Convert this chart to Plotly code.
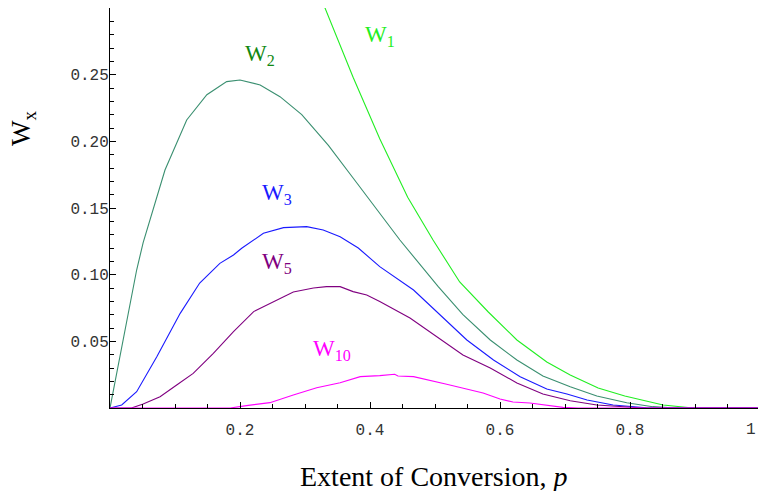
import plotly.graph_objects as go

# Extent of conversion p (x) and weight fractions W_x (y)
p_w1 = [0.31, 0.331, 0.374, 0.415, 0.458, 0.497, 0.538, 0.582, 0.626, 0.672, 0.708, 0.751, 0.792, 0.851, 0.897, 1.0]
w1 = [0.325, 0.30, 0.248, 0.202, 0.158, 0.126, 0.0945, 0.072, 0.051, 0.0345, 0.0248, 0.015, 0.009, 0.0022, 0.0, 0.0]

p_w2 = [0.0, 0.02, 0.041, 0.051, 0.0846, 0.118, 0.149, 0.1795, 0.2, 0.231, 0.2615, 0.295, 0.336, 0.374, 0.415,
        0.446, 0.505, 0.543, 0.585, 0.626, 0.666, 0.708, 0.749, 0.795, 0.835, 0.87, 1.0]
w2 = [0.0, 0.051, 0.1035, 0.124, 0.1785, 0.216, 0.235, 0.2448, 0.246, 0.2423, 0.2335, 0.22, 0.197, 0.1725, 0.146,
      0.126, 0.091, 0.07, 0.051, 0.036, 0.024, 0.016, 0.009, 0.004, 0.001, 0.0, 0.0]

p_w3 = [0.0, 0.018, 0.041, 0.072, 0.108, 0.138, 0.169, 0.19, 0.2026, 0.236, 0.267, 0.3026, 0.328, 0.354, 0.382,
        0.415, 0.467, 0.508, 0.549, 0.590, 0.631, 0.672, 0.703, 0.734, 0.774, 0.825, 1.0]
w3 = [0.0, 0.0023, 0.0122, 0.0385, 0.071, 0.0937, 0.1085, 0.1148, 0.1198, 0.131, 0.1353, 0.136, 0.1335, 0.1285, 0.12,
      0.106, 0.0885, 0.0698, 0.051, 0.036, 0.0235, 0.0142, 0.0105, 0.006, 0.0023, 0.0002, 0.0]

p_w5 = [0.0, 0.033, 0.051, 0.077, 0.1026, 0.128, 0.159, 0.19, 0.221, 0.251, 0.282, 0.313, 0.333, 0.354, 0.374,
        0.395, 0.415, 0.4615, 0.5026, 0.543, 0.585, 0.626, 0.666, 0.708, 0.749, 0.789, 0.82, 1.0]
w5 = [0.0, 0.0, 0.003, 0.0085, 0.0173, 0.026, 0.041, 0.0573, 0.0723, 0.0798, 0.087, 0.09, 0.091, 0.091, 0.0873,
      0.0848, 0.0798, 0.0675, 0.0535, 0.0398, 0.030, 0.0188, 0.0105, 0.0055, 0.0023, 0.001, 0.0, 0.0]

p_w10 = [0.0, 0.185, 0.21, 0.246, 0.282, 0.318, 0.354, 0.385, 0.415, 0.438, 0.443, 0.467, 0.518, 0.574, 0.6,
         0.62, 0.646, 0.672, 0.697, 0.72, 1.0]
w10 = [0.0, 0.0, 0.0018, 0.004, 0.0098, 0.0152, 0.019, 0.0235, 0.0243, 0.0253, 0.024, 0.0235, 0.0178, 0.0112, 0.0067,
       0.0045, 0.0037, 0.0018, 0.0005, 0.0, 0.0]

series_names = ["W1", "W2", "W3", "W5", "W10"]
y_tick_vals = [0.05, 0.10, 0.15, 0.20, 0.25]
y_tick_text = ["0.05", "0.10", "0.15", "0.20", "0.25"]
x_tick_vals = [0.2, 0.4, 0.6, 0.8, 1.0]
x_tick_text = ["0.2", "0.4", "0.6", "0.8", "1"]

line_colors = {"W1": "#22ee22", "W2": "#3a8f70", "W3": "#1a1aff", "W5": "#800080", "W10": "#ff00ff"}
label_colors = {"W1": "#22ee22", "W2": "#118811", "W3": "#1a1aff", "W5": "#800080", "W10": "#ff00ff"}

fig = go.Figure()
data = {"W1": (p_w1, w1), "W2": (p_w2, w2), "W3": (p_w3, w3), "W5": (p_w5, w5), "W10": (p_w10, w10)}
for name in series_names:
    xs, ys = data[name]
    fig.add_trace(go.Scatter(x=xs, y=ys, mode="lines", name=name,
                             line=dict(color=line_colors[name], width=1.1),
                             cliponaxis=True, showlegend=False))

# curve labels
labels = [("W1", "1", 0.415, 0.279), ("W2", "2", 0.231, 0.265), ("W3", "3", 0.257, 0.1605),
          ("W5", "5", 0.257, 0.1088), ("W10", "10", 0.3415, 0.0435)]
for name, sub, lx, ly in labels:
    fig.add_annotation(x=lx, y=ly, xref="x", yref="y", showarrow=False,
                       xanchor="center", yanchor="middle",
                       text=f"W<sub>{sub}</sub>",
                       font=dict(family="Liberation Serif", size=23, color=label_colors[name]))

PLOT_W = 648
PLOT_H = 400
# y-axis title
fig.add_annotation(x=-(110 - 23) / PLOT_W, y=(408 - 128) / PLOT_H, xref="paper", yref="paper", showarrow=False,
                   xanchor="center", yanchor="middle",
                   text="W<sub>x</sub>", textangle=-90,
                   font=dict(family="Liberation Serif", size=27, color="black"))

# x-axis title
fig.add_annotation(x=(434 - 110) / PLOT_W, y=-(476 - 408) / PLOT_H, xref="paper", yref="paper", showarrow=False,
                   xanchor="center", yanchor="middle",
                   text="Extent of Conversion, <i>p</i>",
                   font=dict(family="Liberation Serif", size=28, color="black"))

# "1" tick label at the right edge (the axis end lies just beyond the window)
fig.add_annotation(x=1.0, y=-(430 - 408) / PLOT_H, xref="paper", yref="paper", showarrow=False,
                   xanchor="right", yanchor="middle",
                   text="1", font=dict(family="Liberation Mono", size=16, color="#333333"))

fig.update_layout(
    width=758, height=491,
    margin=dict(l=110, r=0, t=8, b=83, autoexpand=False),
    paper_bgcolor="white", plot_bgcolor="white",
    xaxis=dict(range=[0, 648 / 650], showgrid=False, zeroline=False, automargin=False,
               showline=True, linecolor="black", linewidth=1,
               tickmode="array", tickvals=x_tick_vals, ticktext=x_tick_text,
               ticks="inside", ticklen=6, tickcolor="black", tickwidth=1,
               ticklabelstandoff=7,
               minor=dict(dtick=0.05, tick0=0, ticks="inside", ticklen=4, tickcolor="black", showgrid=False),
               tickfont=dict(family="Liberation Mono", size=16, color="#333333")),
    yaxis=dict(range=[0, 0.30], showgrid=False, zeroline=False, automargin=False,
               showline=True, linecolor="black", linewidth=1,
               tickmode="array", tickvals=y_tick_vals, ticktext=y_tick_text,
               ticks="inside", ticklen=6, tickcolor="black", tickwidth=1,
               ticklabelstandoff=-3,
               minor=dict(dtick=0.01, tick0=0, ticks="inside", ticklen=4, tickcolor="black", showgrid=False),
               tickfont=dict(family="Liberation Mono", size=16, color="#333333")),
)

fig.write_html("out.html", config={"displayModeBar": False},
               post_script="document.body.style.margin='0';")
